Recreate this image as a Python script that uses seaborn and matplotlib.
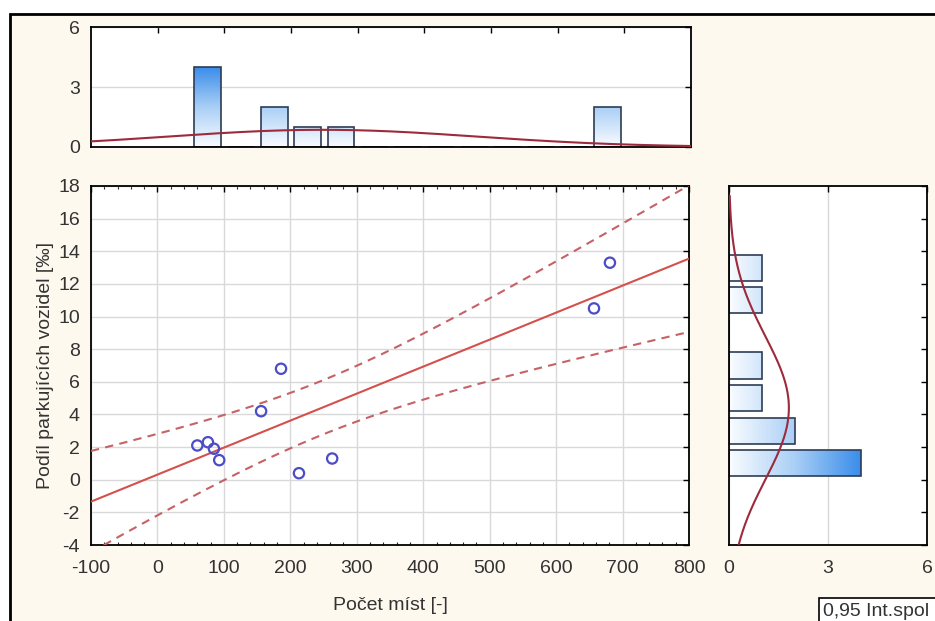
import numpy as np
import matplotlib
matplotlib.use("Agg")
import matplotlib.pyplot as plt
from matplotlib.patches import Rectangle
from matplotlib.colors import LinearSegmentedColormap
from matplotlib.ticker import MultipleLocator
import seaborn as sns
import pandas as pd

# ---------------- data ----------------
pocet_mist = [60, 76, 85, 93, 156, 186, 213, 263, 657, 681]
podil = [2.1, 2.3, 1.9, 1.2, 4.2, 6.8, 0.4, 1.3, 10.5, 13.3]
x_ticks = [-100, 0, 100, 200, 300, 400, 500, 600, 700, 800]
y_ticks = [-4, -2, 0, 2, 4, 6, 8, 10, 12, 14, 16, 18]
hist_ticks = [0, 3, 6]
x_label = "Počet míst [-]"
y_label = "Podíl parkujících vozidel [‰]"
legend_text = "0,95 Int.spol"

sns.set_theme(style="white")
plt.rcParams["font.family"] = ["Liberation Sans", "DejaVu Sans"]
plt.rcParams["axes.unicode_minus"] = False

df = pd.DataFrame({"x": pocet_mist, "y": podil})

W, H = 935, 621
fig = plt.figure(figsize=(W / 100, H / 100), dpi=100, facecolor="white")

# cream panel with black border (left/top visible)
bg = Rectangle((10 / W, -0.1), 1.2, 1 - 14 / H + 0.1, transform=fig.transFigure,
               facecolor="#FEF9EE", edgecolor="black", linewidth=2, zorder=-10)
fig.add_artist(bg)

def fx(px):
    return px / W

def fy(py):
    return 1 - py / H

ax = fig.add_axes([fx(91), fy(545), (689 - 91) / W, (545 - 186) / H])
ax_top = fig.add_axes([fx(91), fy(147), (691 - 91) / W, (147 - 27) / H])
ax_r = fig.add_axes([fx(729), fy(545), (927 - 729) / W, (545 - 186) / H])

tick_color = "#333333"
grid_color = "#D9D9D9"
red_line = "#D4504C"
ci_color = "#C66266"
curve_color = "#9E2A3C"
edge_bar = "#2C3C55"
cmap = LinearSegmentedColormap.from_list("g", ["#FAFCFF", "#A9CFF6", "#3A8DEA"])

for a in (ax, ax_top, ax_r):
    a.set_facecolor("white")
    for s in a.spines.values():
        s.set_color("black")
        s.set_linewidth(1.3)

# ---------------- main scatter + regression ----------------
ax.set_xlim(-100, 800)
ax.set_ylim(-4, 18)
ax.set_xticks(x_ticks)
ax.set_yticks(y_ticks)
ax.xaxis.set_minor_locator(MultipleLocator(20))
ax.grid(True, which="major", color=grid_color, linewidth=1)
ax.set_axisbelow(True)

sns.regplot(data=df, x="x", y="y", ax=ax, scatter=False, ci=None, truncate=False,
            line_kws=dict(color=red_line, linewidth=1.5, zorder=3))

xv = np.array(pocet_mist, dtype=float)
yv = np.array(podil, dtype=float)
n = len(xv)
b, a0 = np.polyfit(xv, yv, 1)
resid = yv - (a0 + b * xv)
s = np.sqrt(np.sum(resid ** 2) / (n - 2))
sxx = np.sum((xv - xv.mean()) ** 2)
t975 = 2.306
xg = np.linspace(-100, 800, 300)
yfit = a0 + b * xg
half = t975 * s * np.sqrt(1 / n + (xg - xv.mean()) ** 2 / sxx)
ax.plot(xg, yfit + half, color=ci_color, linestyle=(0, (4, 3)), linewidth=1.5, zorder=3)
ax.plot(xg, yfit - half, color=ci_color, linestyle=(0, (4, 3)), linewidth=1.5, zorder=3)

sns.scatterplot(data=df, x="x", y="y", ax=ax, marker="o", s=55, facecolors="none",
                edgecolor="#4C4CC6", linewidth=1.6, zorder=5)

ax.set_xlim(-100, 800)
ax.set_ylim(-4, 18)
ax.set_xlabel(x_label, fontsize=14, color=tick_color, labelpad=14)
ax.set_ylabel(y_label, fontsize=14, color=tick_color, labelpad=3)
ax.tick_params(axis="both", which="major", direction="in", length=4, width=1,
               top=True, right=True, labelsize=14, labelcolor=tick_color, color="black", pad=8)
ax.tick_params(axis="x", which="major", pad=11)
ax.tick_params(axis="x", which="minor", direction="in", length=2, width=0.8, top=True, bottom=True)

def gradient(axh, patch, horizontal, vmax):
    x0, y0 = patch.get_x(), patch.get_y()
    w, h = patch.get_width(), patch.get_height()
    if w <= 0 or h <= 0:
        return
    if horizontal:
        grad = np.linspace(0, 1, 256).reshape(1, -1)
        ext = [0, vmax, y0, y0 + h]
    else:
        grad = np.linspace(0, 1, 256).reshape(-1, 1)
        ext = [x0, x0 + w, 0, vmax]
    im = axh.imshow(grad, extent=ext, origin="lower", cmap=cmap, aspect="auto",
                    zorder=patch.get_zorder() - 0.05, interpolation="bilinear")
    im.set_clip_path(patch)
    patch.set_facecolor("none")

# ---------------- top histogram ----------------
sns.histplot(x=pocet_mist, binwidth=50, binrange=(50, 700), shrink=0.8, ax=ax_top,
             edgecolor=edge_bar, linewidth=1.2, alpha=1, zorder=2)
top_max = max(p.get_height() for p in ax_top.patches)
for p in list(ax_top.patches):
    gradient(ax_top, p, False, top_max)
mx, sx = xv.mean(), xv.std(ddof=1)
xc = np.linspace(-100, 800, 400)
ax_top.plot(xc, n * 50 * np.exp(-0.5 * ((xc - mx) / sx) ** 2) / (sx * np.sqrt(2 * np.pi)),
            color=curve_color, linewidth=1.5, zorder=4)
ax_top.set_xlim(-100, 800)
ax_top.set_ylim(0, 6)
ax_top.set_xticks(x_ticks[1:-1])
ax_top.set_yticks(hist_ticks)
ax_top.yaxis.grid(True, color=grid_color, linewidth=1)
ax_top.set_axisbelow(True)
ax_top.set_xlabel("")
ax_top.set_ylabel("")
ax_top.tick_params(axis="both", direction="in", length=4, width=1, top=True, right=True,
                   labelbottom=False, labelsize=14, labelcolor=tick_color, color="black", pad=8)

# ---------------- right histogram ----------------
sns.histplot(y=podil, binwidth=2, binrange=(0, 14), shrink=0.8, ax=ax_r,
             edgecolor=edge_bar, linewidth=1.2, alpha=1, zorder=2)
r_max = max(p.get_width() for p in ax_r.patches)
for p in list(ax_r.patches):
    gradient(ax_r, p, True, r_max)
my, sy = yv.mean(), yv.std(ddof=1)
yc = np.linspace(-4, 17.4, 400)
ax_r.plot(n * 2 * np.exp(-0.5 * ((yc - my) / sy) ** 2) / (sy * np.sqrt(2 * np.pi)), yc,
          color=curve_color, linewidth=1.5, zorder=4)
ax_r.set_xlim(0, 6)
ax_r.set_ylim(-4, 18)
ax_r.set_xticks(hist_ticks)
ax_r.set_yticks(y_ticks)
ax_r.xaxis.grid(True, color=grid_color, linewidth=1)
ax_r.set_axisbelow(True)
ax_r.set_xlabel("")
ax_r.set_ylabel("")
ax_r.tick_params(axis="both", direction="in", length=4, width=1, top=True, right=True,
                 labelleft=False, labelsize=14, labelcolor=tick_color, color="black", pad=11)

# ---------------- legend stub ----------------
fig.add_artist(Rectangle((fx(819), -0.1), 0.3, fy(598) + 0.1, transform=fig.transFigure,
                         facecolor="white", edgecolor="black", linewidth=1.2, zorder=5))
fig.text(fx(823), fy(611), legend_text, fontsize=14, color=tick_color, va="center",
         ha="left", zorder=6)

fig.savefig("out.png", dpi=100, facecolor=fig.get_facecolor())
